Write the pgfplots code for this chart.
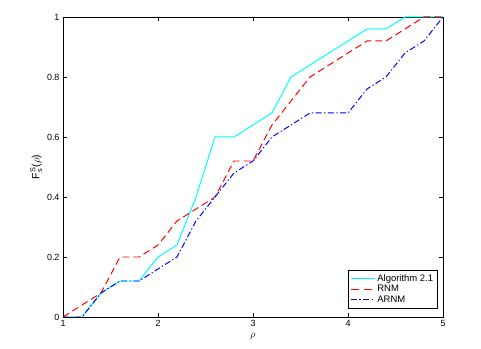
\documentclass[border=0pt]{standalone}
\usepackage{pgfplots}
\pgfplotsset{compat=1.18}
\usepackage{fontspec}
\setmainfont{Liberation Sans}
\definecolor{mcyan}{rgb}{0,1,1}
\definecolor{mred}{rgb}{1,0,0}
\definecolor{mblue}{rgb}{0,0,1}
\begin{document}
\begin{tikzpicture}[x=1bp,y=1bp]
\begin{axis}[
  name=main,
  at={(0,0)}, anchor=south west,
  scale only axis,
  width=380bp, height=300bp,
  xmin=1, xmax=5, ymin=0, ymax=1,
  xtick={1,2,3,4,5},
  ytick={0,0.2,0.4,0.6,0.8,1},
  yticklabels={0,0.2,0.4,0.6,0.8,1},
  xticklabels={1,2,3,4,5},
  tick align=inside,
  major tick length=4bp,
  tick style={black, line width=0.5pt},
  axis line style={black, line width=0.6pt},
  tick label style={font=\fontsize{9}{10}\selectfont},
  xlabel={\fontsize{10}{11}\selectfont$\rho$},
  ylabel={\fontsize{10.5}{12}\selectfont F$^{\mathrm{S}}_{\mathrm{s}}$($\rho$)},
  ylabel style={yshift=-2bp},
  legend cell align=left,
  legend style={font=\fontsize{9.5}{10}\selectfont, row sep=-1.5pt, at={(0.985,0.03)}, anchor=south east, inner sep=2pt, draw=black},
]
\addplot[mcyan, line width=1pt,
  legend image code/.code={\draw[draw=mcyan, line width=1pt] (0bp,0bp) -- (24bp,0bp);}] coordinates {
(1,0) (1.2,0) (1.4,0.08) (1.6,0.12) (1.8,0.12) (2.0,0.2) (2.2,0.24) (2.4,0.4) (2.6,0.6) (2.8,0.6) (3.0,0.64) (3.2,0.68) (3.4,0.8) (3.6,0.84) (3.8,0.88) (4.0,0.92) (4.2,0.96) (4.4,0.96) (4.6,1) (4.8,1) (5,1)};
\addlegendentry{Algorithm 2.1}
\addplot[mred, line width=1pt, dash pattern=on 7bp off 4bp,
  legend image code/.code={\draw[draw=mred, line width=1pt, dash pattern=on 8bp off 5bp] (0bp,0bp) -- (24bp,0bp);}] coordinates {
(1,0) (1.2,0.04) (1.4,0.08) (1.6,0.2) (1.8,0.2) (2.0,0.24) (2.2,0.32) (2.4,0.36) (2.6,0.4) (2.8,0.52) (3.0,0.52) (3.2,0.64) (3.4,0.72) (3.6,0.8) (3.8,0.84) (4.0,0.88) (4.2,0.92) (4.4,0.92) (4.6,0.96) (4.8,1) (5,1)};
\addlegendentry{RNM}
\addplot[mblue, line width=1pt, dash pattern=on 6bp off 2.5bp on 1.2bp off 2.5bp,
  legend image code/.code={\draw[draw=mblue, line width=1pt, dash pattern=on 6bp off 2.5bp on 1.2bp off 2.5bp] (0bp,0bp) -- (24bp,0bp);}] coordinates {
(1,0) (1.2,0) (1.4,0.08) (1.6,0.12) (1.8,0.12) (2.0,0.16) (2.2,0.2) (2.4,0.32) (2.6,0.4) (2.8,0.48) (3.0,0.52) (3.2,0.6) (3.4,0.64) (3.6,0.68) (3.8,0.68) (4.0,0.68) (4.2,0.76) (4.4,0.8) (4.6,0.88) (4.8,0.92) (5,1)};
\addlegendentry{ARNM}
\end{axis}
\pgfresetboundingbox
\path ([xshift=-63bp,yshift=-32bp]main.south west) rectangle ([xshift=38bp,yshift=17bp]main.north east);
\end{tikzpicture}
\end{document}
